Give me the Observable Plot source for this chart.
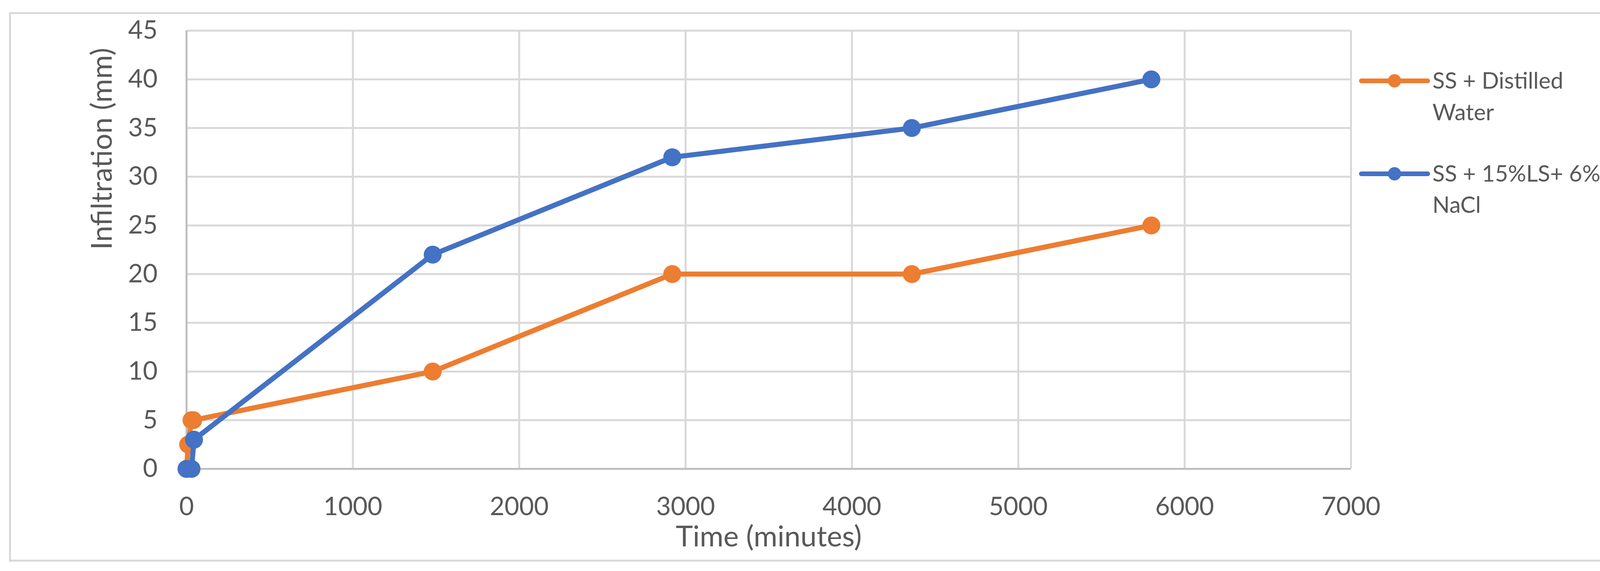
<!DOCTYPE html>
<html>
<head>
<meta charset="utf-8">
<script src="https://cdn.jsdelivr.net/npm/d3@7"></script>
<script src="https://cdn.jsdelivr.net/npm/@observablehq/plot@0.6"></script>
<style>
  html, body { margin: 0; padding: 0; background: #fff; }
  #wrap { position: relative; width: 4177px; height: 1462px; overflow: hidden; font-family: Lato, "Open Sans", sans-serif; }
  #frame { position: absolute; left: 23px; top: 31px; width: 4122px; height: 1397px; border: 5px solid #d9d9d9; }
  #chart { position: absolute; left: 0; top: 0; }
  #legend { position: absolute; left: 0; top: 0; pointer-events: none; }
</style>
</head>
<body>
<div id="wrap">
  <div id="frame"></div>
  <div id="chart"></div>
  <svg id="legend" width="4177" height="1462"></svg>
</div>
<script>
// ---- data ----
const seriesNames = ["SS + Distilled Water", "SS + 15%LS+ 6% NaCl"];
const seriesLegendLines = [["SS + Distilled", "Water"], ["SS + 15%LS+ 6%", "NaCl"]];
const seriesColors = ["#ED7D31", "#4472C4"];

const timeDistilled = [0, 10, 30, 40, 1480, 2920, 4360, 5800];
const infilDistilled = [0, 2.5, 5, 5, 10, 20, 20, 25];

const timeTreated = [0, 30, 45, 1480, 2920, 4360, 5800];
const infilTreated = [0, 0, 3, 22, 32, 35, 40];

const xTicks = [0, 1000, 2000, 3000, 4000, 5000, 6000, 7000];
const yTicks = [0, 5, 10, 15, 20, 25, 30, 35, 40, 45];

const xTitle = "Time (minutes)";
const yTitle = "Infiltration (mm)";

// ---- tables built from arrays ----
const distilled = timeDistilled.map((t, i) => ({t, v: infilDistilled[i]}));
const treated = timeTreated.map((t, i) => ({t, v: infilTreated[i]}));

const textColor = "#595959";
const gridColor = "#d9d9d9";
const axisColor = "#bfbfbf";

const chart = Plot.plot({
  width: 4177,
  height: 1462,
  marginLeft: 477,
  marginRight: 719,
  marginTop: 78,
  marginBottom: 262,
  style: {fontFamily: "Lato, 'Open Sans', sans-serif", background: "transparent", overflow: "visible", color: textColor},
  x: {domain: [0, 7000]},
  y: {domain: [0, 45]},
  marks: [
    Plot.gridX(xTicks, {stroke: gridColor, strokeOpacity: 1, strokeWidth: 5}),
    Plot.gridY(yTicks, {stroke: gridColor, strokeOpacity: 1, strokeWidth: 5}),
    Plot.ruleX([0], {stroke: axisColor, strokeWidth: 5}),
    Plot.ruleY([0], {stroke: axisColor, strokeWidth: 5}),
    Plot.axisX(xTicks, {tickSize: 0, tickPadding: 72, fontSize: 65, fill: textColor, label: null, tickFormat: d => String(d)}),
    Plot.axisY(yTicks, {tickSize: 0, tickPadding: 74, fontSize: 65, fill: textColor, label: null, tickFormat: d => String(d)}),
    Plot.line(distilled, {x: "t", y: "v", stroke: seriesColors[0], strokeWidth: 13, strokeLinejoin: "round", strokeLinecap: "round"}),
    Plot.dot(distilled, {x: "t", y: "v", r: 23, fill: seriesColors[0]}),
    Plot.line(treated, {x: "t", y: "v", stroke: seriesColors[1], strokeWidth: 13, strokeLinejoin: "round", strokeLinecap: "round"}),
    Plot.dot(treated, {x: "t", y: "v", r: 23, fill: seriesColors[1]}),
    Plot.text([xTitle], {text: d => d, frameAnchor: "bottom", dy: 198, lineAnchor: "bottom", fontSize: 74, fill: textColor}),
    Plot.text([yTitle], {text: d => d, frameAnchor: "left", dx: -192, rotate: -90, lineAnchor: "bottom", fontSize: 74, fill: textColor})
  ]
});
document.getElementById("chart").appendChild(chart);

// ---- legend ----
const legend = d3.select("#legend");
const legendRows = [
  {lineY: 207, baselines: [227, 308]},
  {lineY: 445, baselines: [465, 545]}
];
seriesNames.forEach((name, i) => {
  const g = legend.append("g");
  const row = legendRows[i];
  g.append("line").attr("x1", 3485).attr("x2", 3655).attr("y1", row.lineY).attr("y2", row.lineY)
    .attr("stroke", seriesColors[i]).attr("stroke-width", 12).attr("stroke-linecap", "round");
  g.append("circle").attr("cx", 3570).attr("cy", row.lineY).attr("r", 17).attr("fill", seriesColors[i]);
  seriesLegendLines[i].forEach((txt, j) => {
    g.append("text").attr("x", 3667).attr("y", row.baselines[j])
      .attr("font-family", "Lato, 'Open Sans', sans-serif").attr("font-size", 58).attr("fill", textColor)
      .text(txt);
  });
});
</script>
</body>
</html>
